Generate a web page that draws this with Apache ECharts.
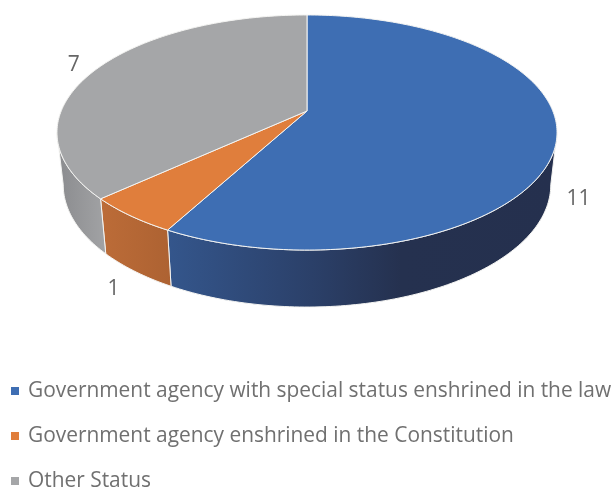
<!DOCTYPE html>
<html>
<head>
<meta charset="utf-8">
<style>html,body{margin:0;padding:0;background:#fff}#chart{width:614px;height:488px}</style>
<script src="https://cdn.jsdelivr.net/npm/echarts@6/dist/echarts.min.js"></script>
</head>
<body>
<div id="chart"></div>
<script>
// Legal status of the agencies, counted per category
const categories = [
  'Government agency with special status enshrined in the law',
  'Government agency enshrined in the Constitution',
  'Other Status'
];
const counts = [11, 1, 7];

const topColors = ['#3e6eb3', '#e07e3c', '#a5a6a8'];
const sideStops = [
  [[0, '#34568c'], [0.37, '#2b4069'], [0.6, '#25314f'], [1, '#25304e']],
  [[0, '#bc6c38'], [1, '#ad6232']],
  [[0, '#8a8b8e'], [1, '#a2a3a5']]
];
const labelOffsets = [[22, 58.5], [-17, 73], [-23.5, -3]];

// Perspective disc: the hub sits above the middle of the rim ellipse
const hub = { x: 307, y: 111 };
const disc = { a: 245.8, b: 113.6, k: 0.183 };
// The lower rim follows the upper rim, slightly narrower and shifted down
const base = { scaleX: 0.975, scaleY: 1.04, anchorY: 250, nearY: 307 };
// Angle at which the rim turns away from the viewer
const silhouette = Math.acos(-disc.k) * 180 / Math.PI;

const total = counts.reduce((s, v) => s + v, 0);

function rimPoint(deg) {
  const t = deg * Math.PI / 180;
  const d = 1 + disc.k * Math.cos(t);
  return [hub.x + disc.a * Math.sin(t) / d, hub.y - disc.b * Math.cos(t) / d];
}
function basePoint(p) {
  return [
    hub.x + (p[0] - hub.x) * base.scaleX,
    base.nearY + (p[1] - base.anchorY) * base.scaleY
  ];
}
function arc(from, to) {
  const pts = [];
  const n = Math.max(2, Math.ceil(Math.abs(to - from)));
  for (let i = 0; i <= n; i++) pts.push(rimPoint(from + (to - from) * i / n));
  return pts;
}
function sliceRange(index) {
  let before = 0;
  for (let i = 0; i < index; i++) before += counts[i];
  return [before / total * 360, (before + counts[index]) / total * 360];
}

function renderTop(index) {
  return function (params, api) {
    const r = sliceRange(index);
    const mid = rimPoint((r[0] + r[1]) / 2);
    const off = labelOffsets[index];
    return {
      type: 'group',
      children: [
        {
          type: 'polygon',
          shape: { points: [[hub.x, hub.y]].concat(arc(r[0], r[1])) },
          style: { fill: topColors[index], stroke: '#f4f4f2', lineWidth: 1, lineJoin: 'round' }
        },
        {
          type: 'text',
          x: mid[0] + off[0],
          y: mid[1] + off[1],
          style: {
            text: String(api.value(0)),
            fill: '#666666',
            font: '21px "Open Sans"',
            align: 'center',
            verticalAlign: 'middle'
          }
        }
      ]
    };
  };
}

function renderSide(index) {
  return function () {
    const r = sliceRange(index);
    // Only the wall between the two silhouette angles faces the viewer
    const from = Math.max(r[0], silhouette);
    const to = Math.min(r[1], 360 - silhouette);
    const upper = arc(from, to);
    const lower = upper.map(basePoint).reverse();
    return {
      type: 'polygon',
      shape: { points: upper.concat(lower) },
      style: {
        fill: new echarts.graphic.LinearGradient(0, 0, 1, 0,
          sideStops[index].map(s => ({ offset: s[0], color: s[1] }))),
        stroke: '#f4f4f2',
        lineWidth: 1,
        lineJoin: 'round'
      }
    };
  };
}

const series = [];
categories.forEach((name, i) => {
  series.push({
    type: 'custom',
    name: name,
    coordinateSystem: 'none',
    z: 2,
    silent: true,
    itemStyle: { color: topColors[i] },
    data: [[counts[i]]],
    renderItem: renderSide(i)
  });
});
categories.forEach((name, i) => {
  series.push({
    type: 'custom',
    name: name,
    coordinateSystem: 'none',
    z: 3,
    silent: true,
    itemStyle: { color: topColors[i] },
    data: [[counts[i]]],
    renderItem: renderTop(i)
  });
});

const chart = echarts.init(document.getElementById('chart'), null, { renderer: 'canvas' });
chart.setOption({
  animation: false,
  backgroundColor: '#ffffff',
  legend: {
    orient: 'vertical',
    left: 6,
    top: 373,
    height: 200,
    padding: 5,
    itemWidth: 8,
    itemHeight: 8,
    itemGap: 19,
    icon: 'rect',
    selectedMode: false,
    data: categories,
    textStyle: {
      color: '#707070',
      fontFamily: '"Open Sans"',
      fontSize: 20.9,
      lineHeight: 26,
      padding: [0, 0, 0, 4]
    }
  },
  series: series
});
</script>
</body>
</html>
